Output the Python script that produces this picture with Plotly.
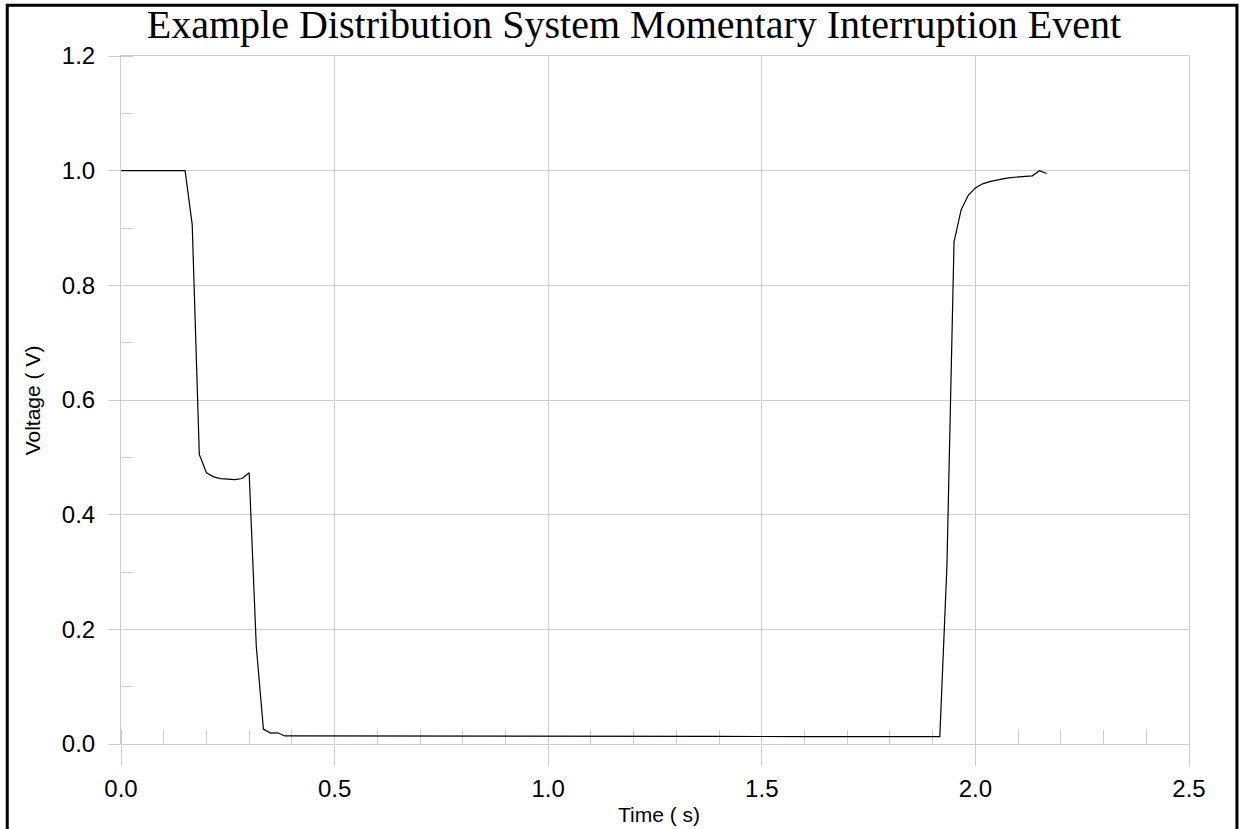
import plotly.graph_objects as go

# Time (s) and voltage (pu)
time_s = [0.0, 0.05, 0.10, 0.15, 0.1667, 0.1833, 0.2, 0.2167, 0.2333, 0.25, 0.2667, 0.2833,
          0.30, 0.3167, 0.3333, 0.35, 0.3667, 0.3833, 0.40, 0.45, 0.50, 0.60, 0.70, 0.80,
          0.90, 1.00, 1.20, 1.40, 1.60, 1.80, 1.90, 1.9167, 1.9333, 1.95, 1.9667, 1.9833,
          2.0, 2.0167, 2.0333, 2.05, 2.0667, 2.0833, 2.10, 2.1167, 2.1333, 2.15, 2.1667]
voltage = [1.0, 0.9995, 1.0, 1.0, 0.906, 0.505, 0.473, 0.466, 0.463, 0.462, 0.461, 0.463,
           0.473, 0.17, 0.026, 0.019, 0.0195, 0.014, 0.014, 0.0145, 0.0145, 0.0145, 0.014, 0.0138,
           0.0137, 0.0135, 0.0133, 0.0132, 0.013, 0.013, 0.0128, 0.0128, 0.31, 0.876, 0.932, 0.957,
           0.970, 0.977, 0.981, 0.984, 0.986, 0.988, 0.989, 0.990, 0.991, 1.0, 0.995]

x_ticks = [0.0, 0.5, 1.0, 1.5, 2.0, 2.5]
y_ticks = [0.0, 0.2, 0.4, 0.6, 0.8, 1.0, 1.2]

title_text = "Example Distribution System Momentary Interruption Event"
x_title = "Time ( s)"
y_title = "Voltage ( V)"

GRID = "#cccccc"

fig = go.Figure()
fig.add_trace(go.Scatter(x=time_s, y=voltage, mode="lines",
                         line=dict(color="black", width=1.2), showlegend=False,
                         hoverinfo="skip"))

fig.update_layout(
    width=1243, height=829,
    margin=dict(l=121, r=54, t=56, b=85, pad=0),
    paper_bgcolor="white", plot_bgcolor="white",
    title=dict(text=title_text, x=0.51, xanchor="center", y=0.9715, yanchor="middle",
               font=dict(family="Liberation Serif, Times New Roman, serif", size=40, color="black")),
    font=dict(family="Liberation Sans, Arial, sans-serif", color="black"),
)

fig.update_xaxes(range=[0, 2.5], tickvals=x_ticks, ticktext=[f"{v:.1f}" for v in x_ticks],
                 showgrid=True, gridcolor=GRID, gridwidth=1, zeroline=False,
                 showline=True, linecolor=GRID, linewidth=1, mirror=True,
                 layer="below traces",
                 ticks="outside", ticklen=21, tickcolor=GRID, tickwidth=1,
                 ticklabelstandoff=2,
                 tickfont=dict(size=24, color="black"),
                 minor=dict(dtick=0.1, ticks="inside", ticklen=14, tickcolor=GRID,
                            tickwidth=1, showgrid=False))
fig.update_yaxes(range=[0, 1.2], tickvals=y_ticks, ticktext=[f"{v:.1f}" for v in y_ticks],
                 showgrid=True, gridcolor=GRID, gridwidth=1, zeroline=False,
                 showline=True, linecolor=GRID, linewidth=1, mirror=True,
                 layer="below traces",
                 ticks="outside", ticklen=12, tickcolor=GRID, tickwidth=1,
                 ticklabelstandoff=8,
                 tickfont=dict(size=24, color="black"),
                 minor=dict(dtick=0.1, ticks="inside", ticklen=12, tickcolor=GRID,
                            tickwidth=1, showgrid=False))

fig.add_annotation(text=x_title, xref="paper", yref="paper", x=0.504, y=-0.103,
                   xanchor="center", yanchor="middle", showarrow=False,
                   font=dict(size=21, color="black"))
fig.add_annotation(text=y_title, xref="paper", yref="paper", x=-0.083, y=0.5,
                   xanchor="center", yanchor="middle", showarrow=False, textangle=-90,
                   font=dict(size=21, color="black"))

# outer black frame
fig.add_shape(type="rect", xref="paper", yref="paper", x0=-0.1065, x1=1.0449,
              y0=-0.25, y1=1.0737, line=dict(color="black", width=3), layer="above")

fig.write_html("out.html", config={"displayModeBar": False},
               post_script="document.body.style.margin='0';document.body.style.overflow='hidden';")
